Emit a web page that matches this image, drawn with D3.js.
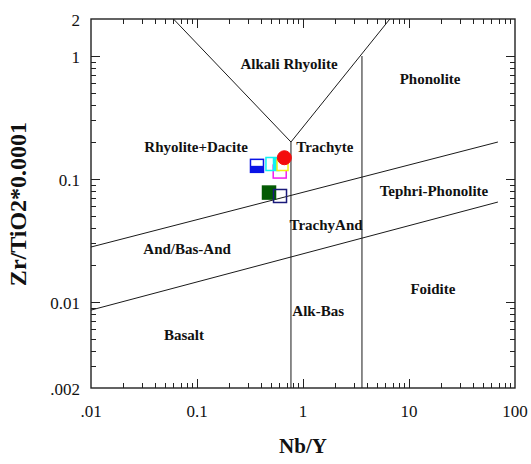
<!DOCTYPE html>
<html>
<head>
<meta charset="utf-8">
<script src="https://cdn.jsdelivr.net/npm/d3@7"></script>
<style>
  html, body { margin: 0; padding: 0; background: #fff; }
  svg { display: block; }
  text { font-family: "Liberation Serif", "Times New Roman", serif; fill: #111; }
</style>
</head>
<body>
<svg id="chart" width="531" height="464"></svg>
<script>
// Zr/TiO2 vs Nb/Y classification (Winchester & Floyd), log-log

const xTickValues = [0.01, 0.1, 1, 10, 100];
const xTickLabels = [".01", "0.1", "1", "10", "100"];
const yTickValues = [0.002, 0.01, 0.1, 1, 2];
const yTickLabels = [".002", "0.01", "0.1", "1", "2"];

// field boundaries, each as a list of [Nb/Y, Zr/TiO2*0.0001]
const boundaryVLeft   = [[0.06, 2], [0.77, 0.2]];
const boundaryVRight  = [[0.77, 0.2], [6.6, 2]];
const boundaryAlk     = [[0.77, 0.2], [0.77, 0.002]];
const boundaryFoid    = [[3.6, 1.0], [3.6, 0.002]];
const boundaryUpper   = [[0.01, 0.028], [69, 0.2]];
const boundaryLower   = [[0.01, 0.0086], [69, 0.065]];

// field names and their anchor points (label baseline) in data units
const fieldNames = ["Alkali Rhyolite", "Phonolite", "Rhyolite+Dacite", "Trachyte",
  "Tephri-Phonolite", "TrachyAnd", "And/Bas-And", "Foidite", "Alk-Bas", "Basalt"];
const fieldNbY = [0.738, 15.8, 0.098, 1.61, 17.2, 1.65, 0.0806, 16.8, 1.39, 0.0753];
const fieldZr  = [0.784, 0.593, 0.166, 0.166, 0.0728, 0.0385, 0.0246, 0.0116, 0.00769, 0.00491];

// samples
const sampleNbY = [0.368, 0.603, 0.515, 0.594, 0.641, 0.667, 0.478, 0.607];
const sampleZr  = [0.128, 0.115, 0.1325, 0.1325, 0.130, 0.149, 0.0776, 0.0728];

// marker look for each sample, in drawing order
const sampleStyle = [
  { shape: "half",   color: "#0a14e6" },
  { shape: "open",   color: "#f21cf2" },
  { shape: "open",   color: "#12f2f2" },
  { shape: "filled", color: "#12f2f2" },
  { shape: "white",  color: "#f2f20f" },
  { shape: "circle", color: "#f40c0c" },
  { shape: "filled", color: "#035a03" },
  { shape: "open",   color: "#1a1a7a" }
];

const svg = d3.select("#chart");
const plot = { left: 91, right: 515, top: 19, bottom: 388 };

const x = d3.scaleLog().domain([0.01, 100]).range([plot.left, plot.right]);
const y = d3.scaleLog().domain([0.002, 2]).range([plot.bottom, plot.top]);

// minor tick positions
const xMinor = [];
[0.01, 0.1, 1, 10].forEach(d => { for (let k = 2; k <= 9; k++) xMinor.push(k * d); });
const yMinor = [];
for (let k = 3; k <= 9; k++) yMinor.push(k * 0.001);
[0.01, 0.1].forEach(d => { for (let k = 2; k <= 9; k++) yMinor.push(k * d); });

const majorLen = 9, minorLen = 5;
const tickG = svg.append("g").attr("stroke", "#222").attr("stroke-width", 1);

function xTicks(vals, len) {
  vals.forEach(v => {
    const px = Math.round(x(v)) + 0.5;
    tickG.append("line").attr("x1", px).attr("x2", px)
      .attr("y1", plot.bottom).attr("y2", plot.bottom - len);
    tickG.append("line").attr("x1", px).attr("x2", px)
      .attr("y1", plot.top).attr("y2", plot.top + len);
  });
}
function yTicks(vals, len) {
  vals.forEach(v => {
    const py = Math.round(y(v)) + 0.5;
    tickG.append("line").attr("y1", py).attr("y2", py)
      .attr("x1", plot.left).attr("x2", plot.left + len);
    tickG.append("line").attr("y1", py).attr("y2", py)
      .attr("x1", plot.right).attr("x2", plot.right - len);
  });
}
xTicks(xTickValues.slice(1, -1), majorLen);
xTicks(xMinor, minorLen);
yTicks(yTickValues.filter(v => v !== 0.002 && v !== 2), majorLen);
yTicks(yMinor, minorLen);

// frame
svg.append("rect")
  .attr("x", plot.left).attr("y", plot.top)
  .attr("width", plot.right - plot.left).attr("height", plot.bottom - plot.top)
  .attr("fill", "none").attr("stroke", "#222").attr("stroke-width", 1.4);

// tick labels
svg.append("g").selectAll("text").data(xTickValues).join("text")
  .attr("x", d => x(d)).attr("y", 417)
  .attr("text-anchor", "middle")
  .style("font-size", "17px")
  .text((d, i) => xTickLabels[i]);

svg.append("g").selectAll("text").data(yTickValues).join("text")
  .attr("x", 80).attr("y", d => y(d) + 7)
  .attr("text-anchor", "end")
  .style("font-size", "17px")
  .text((d, i) => yTickLabels[i]);

// axis titles
svg.append("text")
  .attr("x", 303).attr("y", 453)
  .attr("text-anchor", "middle")
  .style("font-size", "21px").style("font-weight", "bold")
  .text("Nb/Y");

svg.append("text")
  .attr("transform", "translate(26,204) rotate(-90)")
  .attr("text-anchor", "middle")
  .style("font-size", "24px").style("font-weight", "bold")
  .text("Zr/TiO2*0.0001");

// field boundaries
const line = d3.line().x(d => x(d[0])).y(d => y(d[1]));
const bg = svg.append("g").attr("fill", "none").attr("stroke", "#1a1a1a").attr("stroke-width", 1);
[boundaryVLeft, boundaryVRight, boundaryAlk, boundaryFoid, boundaryUpper, boundaryLower]
  .forEach(seg => bg.append("path").attr("d", line(seg)));

// field names
svg.append("g").selectAll("text").data(fieldNames).join("text")
  .attr("x", (d, i) => x(fieldNbY[i]))
  .attr("y", (d, i) => y(fieldZr[i]))
  .attr("text-anchor", "middle")
  .style("font-size", "15px").style("font-weight", "bold")
  .text(d => d);

// samples
const size = 13;
const mg = svg.append("g");
sampleNbY.forEach((v, i) => {
  const cx = x(v), cy = y(sampleZr[i]);
  const st = sampleStyle[i];
  if (st.shape === "circle") {
    mg.append("circle").attr("cx", cx).attr("cy", cy).attr("r", 7)
      .attr("fill", st.color).attr("stroke", st.color);
    return;
  }
  const sz = st.shape === "white" ? 11 : (st.shape === "filled" && i === 3 ? 11 : size);
  const r = mg.append("rect")
    .attr("x", cx - sz / 2).attr("y", cy - sz / 2)
    .attr("width", sz).attr("height", sz)
    .attr("stroke", st.color).attr("stroke-width", 1.5);
  if (st.shape === "filled") r.attr("fill", st.color);
  else if (st.shape === "open") r.attr("fill", "none");
  else r.attr("fill", "#fff");
  if (st.shape === "half") {
    mg.append("rect")
      .attr("x", cx - sz / 2).attr("y", cy)
      .attr("width", sz).attr("height", sz / 2)
      .attr("fill", st.color);
  }
});
</script>
</body>
</html>
